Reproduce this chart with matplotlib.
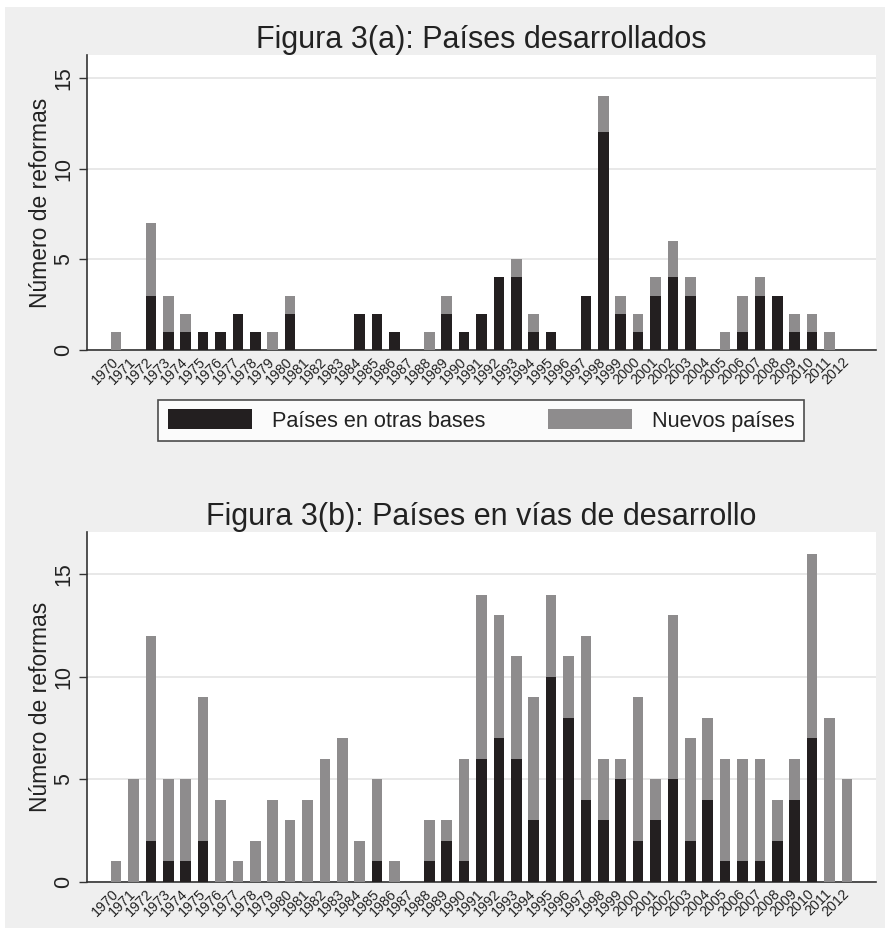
import numpy as np
import matplotlib
matplotlib.use("Agg")
import matplotlib.pyplot as plt
from matplotlib.patches import Rectangle, Patch

plt.rcParams['font.family'] = ['Liberation Sans', 'DejaVu Sans']

years = list(range(1970, 2013))

# Figura 3(a): países desarrollados
dev_otras = [0, 0, 3, 1, 1, 1, 1, 2, 1, 0, 2, 0, 0, 0, 2, 2, 1, 0, 0, 2, 1, 2,
             4, 4, 1, 1, 0, 3, 12, 2, 1, 3, 4, 3, 0, 0, 1, 3, 3, 1, 1, 0, 0]
dev_total = [1, 0, 7, 3, 2, 1, 1, 2, 1, 1, 3, 0, 0, 0, 2, 2, 1, 0, 1, 3, 1, 2,
             4, 5, 2, 1, 0, 3, 14, 3, 2, 4, 6, 4, 0, 1, 3, 4, 3, 2, 2, 1, 0]

# Figura 3(b): países en vías de desarrollo
pvd_otras = [0, 0, 2, 1, 1, 2, 0, 0, 0, 0, 0, 0, 0, 0, 0, 1, 0, 0, 1, 2, 1, 6,
             7, 6, 3, 10, 8, 4, 3, 5, 2, 3, 5, 2, 4, 1, 1, 1, 2, 4, 7, 0, 0]
pvd_total = [1, 5, 12, 5, 5, 9, 4, 1, 2, 4, 3, 4, 6, 7, 2, 5, 1, 0, 3, 3, 6, 14,
             13, 11, 9, 14, 11, 12, 6, 6, 9, 5, 13, 7, 8, 6, 6, 6, 4, 6, 16, 8, 5]

dark = '#231f20'
grey = '#8e8c8d'
bg = '#efefef'

fig = plt.figure(figsize=(8.94, 9.34), dpi=100)
fig.patch.set_facecolor('white')
fig.patches.append(Rectangle((5 / 894, 1 - 928 / 934), 880 / 894, 921 / 934,
                             transform=fig.transFigure, facecolor=bg,
                             edgecolor='none', zorder=-10))

W, H = 894, 934
ax1 = fig.add_axes([87 / W, 1 - 350 / H, 789 / W, 295 / H])
ax2 = fig.add_axes([87 / W, 1 - 882 / H, 789 / W, 350 / H])


def draw(ax, otras, total, title, ytop):
    x = np.array(years)
    nuevos = np.array(total) - np.array(otras)
    ax.bar(x, otras, width=0.61, color=dark, linewidth=0, zorder=3)
    ax.bar(x, nuevos, width=0.61, bottom=otras, color=grey, linewidth=0, zorder=3)
    ax.set_facecolor('white')
    ax.set_xlim(1968.33, 2013.67)
    ax.set_ylim(0, ytop)
    ax.set_yticks([0, 5, 10, 15])
    ax.yaxis.grid(True, color='#e4e4e4', linewidth=1.2, zorder=0)
    ax.set_axisbelow(True)
    for s in ['top', 'right']:
        ax.spines[s].set_visible(False)
    for s in ['left', 'bottom']:
        ax.spines[s].set_color('#333333')
        ax.spines[s].set_linewidth(1.2)
    ax.tick_params(axis='y', length=6, width=1.0, color='#333333', pad=3,
                   labelsize=15.5, labelcolor='#222222')
    for lbl in ax.get_yticklabels():
        lbl.set_rotation(90)
        lbl.set_va('center')
    ax.set_xticks(years)
    ax.set_xticklabels([str(y) for y in years], rotation=45, ha='right',
                       va='center', rotation_mode='anchor', fontsize=10.3,
                       color='#222222')
    ax.tick_params(axis='x', length=0, pad=7)
    ax.set_ylabel('Número de reformas', fontsize=16.5, color='#222222', labelpad=1)
    ax.set_title(title, fontsize=22, color='#222222', pad=3)


draw(ax1, dev_otras, dev_total, 'Figura 3(a): Países desarrollados', 16.27)
draw(ax2, pvd_otras, pvd_total, 'Figura 3(b): Países en vías de desarrollo', 17.05)

handles = [Patch(facecolor=dark, edgecolor='none', label='Países en otras bases'),
           Patch(facecolor=grey, edgecolor='none', label='Nuevos países')]
leg = fig.legend(handles=handles, loc='center', ncol=2,
                 bbox_to_anchor=(481 / W, 1 - 420.5 / H), fontsize=15.6,
                 frameon=True, fancybox=False, edgecolor='#222222',
                 handlelength=3.9, handleheight=1.0, handletextpad=0.9,
                 columnspacing=2.9, borderpad=0.45)
leg.get_frame().set_linewidth(1.2)
leg.get_frame().set_facecolor('white')
for t in leg.get_texts():
    t.set_color('#222222')

fig.savefig('out.png', dpi=100, facecolor=fig.get_facecolor())
